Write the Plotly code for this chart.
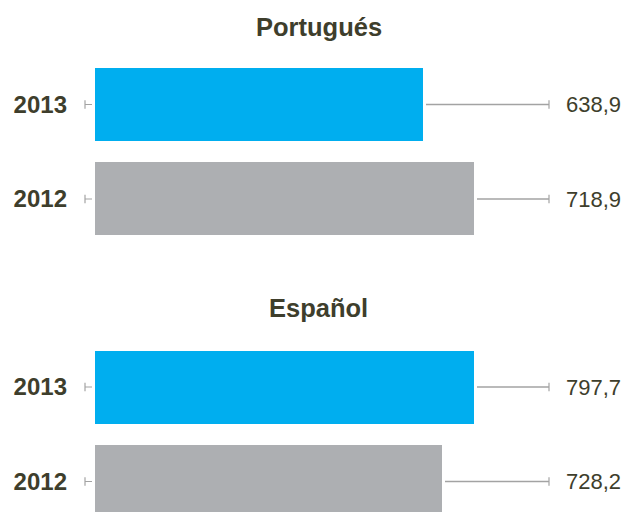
import plotly.graph_objects as go

# values
years = ["2012", "2013"]
titles = ["Portugués", "Español"]
pt_values = [718.9, 638.9]
es_values = [728.2, 797.7]
pt_labels = ["718,9", "638,9"]
es_labels = ["728,2", "797,7"]
bar_colors = ["#ADAFB2", "#00AEEF"]

text_color = "#3E3E2C"
lead_color = "#A3A3A3"
font = "Liberation Sans, Arial, sans-serif"

# the page body has an 8px margin, so the figure is drawn inside it
OFF = 8
W, H = 630 - 2 * OFF, 512 - OFF
plot_left, plot_right = 84 - OFF, 549 - OFF   # px of the x domain
bar_left = 95 - OFF                           # px where the bars begin


def py(px):
    return 1 - (px - OFF) / H


# per panel: value at the bar start and units per pixel
panels = [
    dict(title=titles[0], values=pt_values, labels=pt_labels, base=124.4, upp=1.5686,
         ydomain=[py(246.25), py(57.25)], yrange=[-0.5, 1.5], title_y=py(27)),
    dict(title=titles[1], values=es_values, labels=es_labels, base=-25.5, upp=2.172,
         ydomain=[0.0, py(339.75)], yrange=[1.5 - (512 - 339.75) / 94.5, 1.5], title_y=py(308)),
]

fig = go.Figure()
annotations = []
layout = {}

for i, p in enumerate(panels):
    xa = "x" if i == 0 else "x2"
    ya = "y" if i == 0 else "y2"
    base, upp = p["base"], p["upp"]
    r0 = base - (bar_left - plot_left) * upp
    r1 = base + (plot_right - bar_left) * upp

    fig.add_trace(go.Bar(
        x=[v - base for v in p["values"]], base=base, y=years, orientation="h",
        width=0.77, marker=dict(color=bar_colors, line=dict(width=0)),
        xaxis=xa, yaxis=ya, showlegend=False, hoverinfo="skip"))

    for j, (yr, v, lab) in enumerate(zip(years, p["values"], p["labels"])):
        # right leader line with end tick
        fig.add_trace(go.Scatter(
            x=[v + 3 * upp, r1], y=[yr, yr], mode="lines",
            line=dict(color=lead_color, width=1.5), xaxis=xa, yaxis=ya,
            showlegend=False, hoverinfo="skip", cliponaxis=False))
        fig.add_trace(go.Scatter(
            x=[r1], y=[yr], mode="markers",
            marker=dict(symbol="line-ns", size=6, line=dict(color=lead_color, width=1.2)),
            xaxis=xa, yaxis=ya, showlegend=False, hoverinfo="skip", cliponaxis=False))
        # small left marker
        fig.add_trace(go.Scatter(
            x=[r0 + upp, base - 3 * upp], y=[yr, yr], mode="lines",
            line=dict(color=lead_color, width=1.2), xaxis=xa, yaxis=ya,
            showlegend=False, hoverinfo="skip", cliponaxis=False))
        fig.add_trace(go.Scatter(
            x=[r0 + upp], y=[yr], mode="markers",
            marker=dict(symbol="line-ns", size=6, line=dict(color=lead_color, width=1.2)),
            xaxis=xa, yaxis=ya, showlegend=False, hoverinfo="skip", cliponaxis=False))

        # value label, y given as the category index
        annotations.append(dict(
            x=plot_right / W, y=j, xref="paper", yref=ya, text=lab, showarrow=False,
            xanchor="left", yanchor="middle", xshift=15,
            font=dict(family=font, size=22, color=text_color)))

    annotations.append(dict(
        x=(318.5 - OFF) / W, y=p["title_y"], xref="paper", yref="paper", text=p["title"],
        showarrow=False, xanchor="center", yanchor="middle",
        font=dict(family=font, size=25.5, color=text_color, weight="bold")))

    sfx = "" if i == 0 else "2"
    layout["xaxis" + sfx] = dict(
        domain=[plot_left / W, plot_right / W], range=[r0, r1], visible=False,
        anchor=ya, fixedrange=True)
    layout["yaxis" + sfx] = dict(
        domain=p["ydomain"], range=p["yrange"], type="category",
        categoryorder="array", categoryarray=years, anchor=xa,
        showgrid=False, zeroline=False, showline=False, ticks="",
        ticklabelstandoff=16, automargin=False,
        tickfont=dict(family=font, size=24, color=text_color, weight="bold"))

fig.update_layout(
    width=W, height=H, margin=dict(l=0, r=0, t=0, b=0),
    paper_bgcolor="white", plot_bgcolor="white",
    annotations=annotations, bargap=0, **layout)

fig.write_html("out.html", config={"displayModeBar": False})
